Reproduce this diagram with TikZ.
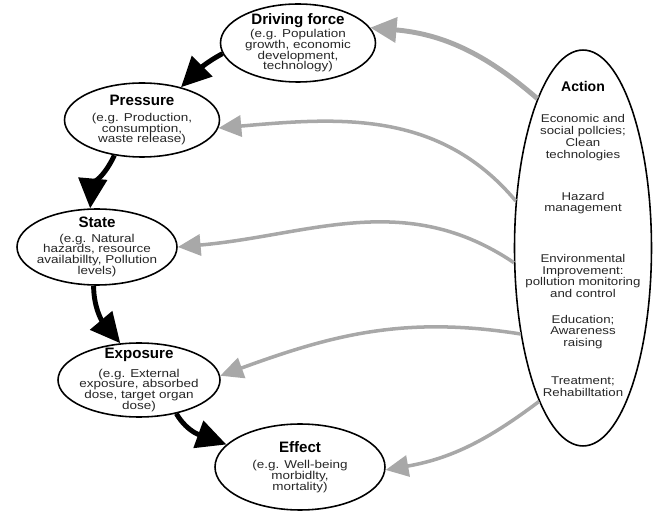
\documentclass[tikz,border=0pt]{standalone}
\usepackage{fontspec}
\setmainfont{Liberation Sans}
\newfontfamily\notefont[FakeStretch=1.18]{Liberation Sans}
\usetikzlibrary{arrows.meta,shapes.geometric}
\definecolor{feedgray}{HTML}{A8A8A8}
\tikzset{
  stage/.style={ellipse, draw, line width=0.9pt, inner sep=0pt},
  stagetext/.style={align=center, inner sep=0pt, text=black!85,
    font=\notefont\fontsize{6.5}{6.1}\selectfont},
  actionnote/.style={align=center, inner sep=0pt, text=black!85,
    font=\notefont\fontsize{6.4}{6.7}\selectfont},
  cyclearr/.style={-{Triangle[length=17pt,width=16pt]}, line width=2.8pt},
  feedarr/.style={-{Triangle[length=13pt,width=12pt]}, line width=2pt, draw=feedgray},
  mainfeedarr/.style={feedarr, -{Triangle[length=15pt,width=14pt]}, line width=2.8pt}
}
\newcommand{\stagetitle}[1]{{\normalfont\bfseries\fontsize{8.6}{10}\selectfont\color{black}#1}}

\begin{document}
\begin{tikzpicture}[x=0.02cm, y=0.02cm]
  \useasboundingbox (0,0) rectangle (660,-513);
  % stages of the chain
  \node[stage, minimum width=3.1cm, minimum height=1.56cm] (df) at (298,-43) {};
  \node[stagetext] (df-text) at (df) {\stagetitle{Driving force}\\(e.g. Population\\growth, economic\\development,\\technology)};
  \node[stage, minimum width=3.1cm, minimum height=1.48cm] (pressure) at (142,-120) {};
  \node[stagetext] (pressure-text) at (pressure) {\stagetitle{Pressure}\\[3pt](e.g. Production,\\consumption,\\waste release)};
  \node[stage, minimum width=3.2cm, minimum height=1.52cm] (state) at (97,-247) {};
  \node[stagetext] (state-text) at (state) {\stagetitle{State}\\[2pt](e.g. Natural\\hazards, resource\\availabillty, Pollution\\levels)};
  \node[stage, minimum width=3.24cm, minimum height=1.48cm] (exposure) at (139,-380) {};
  \node[stagetext] (exposure-text) at (exposure) {\stagetitle{Exposure}\\[3pt](e.g. External\\exposure, absorbed\\dose, target organ\\dose)};
  \node[stage, minimum width=3.4cm, minimum height=1.72cm] (effect) at (300,-467) {};
  \node[stagetext] (effect-text) at (effect) {\stagetitle{Effect}\\[3pt](e.g. Well-being\\morbidlty,\\mortality)};

  % action side
  \node[stage, minimum width=2.74cm, minimum height=7.92cm] (action) at (583,-248) {};
  \node[font=\bfseries\fontsize{8}{10}\selectfont] (action-title) at (583,-86) {Action};
  \node[actionnote] (policy) at (583,-137.5) {Economic and\\social pollcies;\\Clean\\technologies};
  \node[actionnote] (hazard) at (583,-203) {Hazard\\management};
  \node[actionnote] (improve) at (583,-276) {Environmental\\Improvement:\\pollution monitoring\\and control};
  \node[actionnote] (educate) at (583,-332) {Education;\\Awareness\\raising};
  \node[actionnote] (treat) at (583,-386.5) {Treatment;\\Rehabilltation};

  \draw[cyclearr] (df.188) to[out=208, in=45] (pressure.40);
  \draw[cyclearr] (pressure.232) to[out=245, in=85] (state.100);
  \draw[cyclearr] (state.265) to[out=270, in=130] (exposure.117);
  \draw[cyclearr] (exposure.-42) to[out=-60, in=160] (effect.163);

  \draw[mainfeedarr] (action.107) to[out=139, in=-5] (df.12);
  \draw[feedarr] (action.145) to[out=130, in=5] (pressure.-6);
  \draw[feedarr] (action.192) to[out=146, in=5] (state.0);
  \draw[feedarr] (action.234) to[out=171, in=20] (exposure.3);
  \draw[feedarr] (action.254) to[out=217, in=10] (effect.-2);
\end{tikzpicture}
\end{document}
